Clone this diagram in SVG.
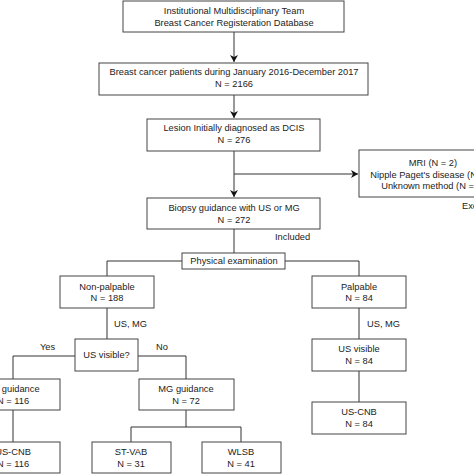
<svg xmlns="http://www.w3.org/2000/svg" width="474" height="474" viewBox="0 0 474 474">
<style>
.b{fill:#fff;stroke:#444;stroke-width:1}
.t{font-family:"Liberation Sans",Arial,sans-serif;font-size:9.3px;fill:#222;text-anchor:middle}
.l{font-family:"Liberation Sans",Arial,sans-serif;font-size:9.3px;fill:#222}
.c{fill:none;stroke:#333;stroke-width:1}
</style>
<defs>
<marker id="ah" markerWidth="8" markerHeight="8" refX="7" refY="4" orient="auto" markerUnits="userSpaceOnUse">
<path d="M0,0 L7,4 L0,8 L2,4 Z" fill="#111"/>
</marker>
</defs>
<rect width="474" height="474" fill="#fff"/>
<g id="connectors">
<path class="c" d="M234,32 V62" marker-end="url(#ah)"/>
<path class="c" d="M234,95 V118" marker-end="url(#ah)"/>
<path class="c" d="M234,151 V197" marker-end="url(#ah)"/>
<path class="c" d="M234,174 H358" marker-end="url(#ah)"/>
<path class="c" d="M234,229 V253"/>
<path class="c" d="M182,261 H107 V276"/>
<path class="c" d="M285,261 H359 V276"/>
<path class="c" d="M107,308 V339"/>
<path class="c" d="M75,356 H13 V379"/>
<path class="c" d="M138,356 H186 V379"/>
<path class="c" d="M13,410 V442"/>
<path class="c" d="M186,410 V427 M131,442 V427 H241 V442"/>
<path class="c" d="M359,308 V339"/>
<path class="c" d="M359,371 V402"/>
</g>
<g id="n1"><rect class="b" x="123" y="1" width="221" height="31"/><text class="t" x="234" y="14">Institutional Multidisciplinary Team</text><text class="t" x="234" y="26">Breast Cancer Registeration Database</text></g>
<g id="n2"><rect class="b" x="99" y="63" width="269" height="32"/><text class="t" x="234" y="75">Breast cancer patients during January 2016-December 2017</text><text class="t" x="234" y="87">N = 2166</text></g>
<g id="n3"><rect class="b" x="147" y="119" width="173" height="32"/><text class="t" x="234" y="131">Lesion Initially diagnosed as DCIS</text><text class="t" x="234" y="143">N = 276</text></g>
<g id="n4"><rect class="b" x="359" y="150" width="148" height="47"/><text class="t" x="433" y="166">MRI (N = 2)</text><text class="t" x="433" y="177.5">Nipple Paget's disease (N = 1)</text><text class="t" x="433" y="189">Unknown method (N = 1)</text></g>
<text class="l" x="462" y="209">Excluded</text>
<g id="n5"><rect class="b" x="147" y="198" width="173" height="31"/><text class="t" x="234" y="211">Biopsy guidance with US or MG</text><text class="t" x="234" y="223">N = 272</text></g>
<text class="l" x="275" y="240">Included</text>
<g id="n6"><rect class="b" x="182" y="253" width="103" height="16"/><text class="t" x="234" y="264">Physical examination</text></g>
<g id="n7"><rect class="b" x="60" y="276" width="94" height="32"/><text class="t" x="107" y="290">Non-palpable</text><text class="t" x="107" y="301">N = 188</text></g>
<g id="n8"><rect class="b" x="312" y="276" width="94" height="32"/><text class="t" x="359" y="290">Palpable</text><text class="t" x="359" y="301">N = 84</text></g>
<text class="l" x="114" y="327">US, MG</text>
<text class="l" x="367" y="327">US, MG</text>
<g id="n9"><rect class="b" x="75" y="339" width="63" height="32"/><text class="t" x="106.5" y="358">US visible?</text></g>
<text class="l" x="40" y="350">Yes</text>
<text class="l" x="156" y="350">No</text>
<g id="n10"><rect class="b" x="-34" y="379" width="94" height="31"/><text class="t" x="13" y="392">US guidance</text><text class="t" x="13" y="404">N = 116</text></g>
<g id="n11"><rect class="b" x="139" y="379" width="95" height="31"/><text class="t" x="186" y="392">MG guidance</text><text class="t" x="186" y="404">N = 72</text></g>
<g id="n12"><rect class="b" x="-34" y="442" width="94" height="31"/><text class="t" x="13" y="455">US-CNB</text><text class="t" x="13" y="467">N = 116</text></g>
<g id="n13"><rect class="b" x="92" y="442" width="79" height="31"/><text class="t" x="131" y="455">ST-VAB</text><text class="t" x="131" y="467">N = 31</text></g>
<g id="n14"><rect class="b" x="202" y="442" width="79" height="31"/><text class="t" x="241" y="455">WLSB</text><text class="t" x="241" y="467">N = 41</text></g>
<g id="n15"><rect class="b" x="312" y="339" width="94" height="32"/><text class="t" x="359" y="352">US visible</text><text class="t" x="359" y="364">N = 84</text></g>
<g id="n16"><rect class="b" x="312" y="402" width="94" height="32"/><text class="t" x="359" y="415">US-CNB</text><text class="t" x="359" y="427">N = 84</text></g>
</svg>
